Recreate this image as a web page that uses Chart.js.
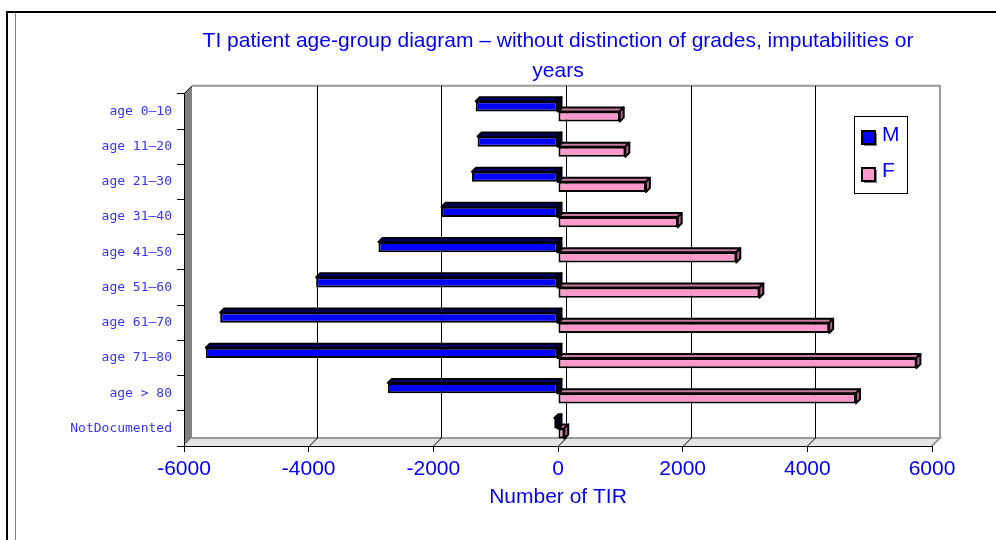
<!DOCTYPE html>
<html>
<head>
<meta charset="utf-8">
<title>TI patient age-group diagram</title>
<script src="https://cdn.jsdelivr.net/npm/chart.js@4.4.1/dist/chart.umd.min.js"></script>
<style>
  html, body { margin: 0; padding: 0; background: #fff; }
  #wrap { position: relative; width: 996px; height: 540px; overflow: hidden; }
  #frame { position: absolute; left: 6px; top: 11px; right: -10px; bottom: -10px; border-left: 2px solid #000; border-top: 2px solid #000; }
  #frame2 { position: absolute; left: 15px; top: 13px; bottom: 0; width: 0; border-left: 1px solid #808080; }
  canvas { position: absolute; left: 0; top: 0; }
</style>
</head>
<body>
<div id="wrap">
  <div id="frame"></div>
  <div id="frame2"></div>
  <canvas id="ageChart" width="996" height="540"></canvas>
</div>
<script>
// --- DATA ---
const ageGroups = ['age 0–10', 'age 11–20', 'age 21–30', 'age 31–40', 'age 41–50',
                   'age 51–60', 'age 61–70', 'age 71–80', 'age > 80', 'NotDocumented'];
const seriesNames = ['M', 'F'];
const maleTIR = [-1320, -1290, -1380, -1870, -2880, -3880, -5420, -5650, -2730, -60];
const femaleTIR = [990, 1080, 1410, 1920, 2860, 3230, 4350, 5750, 4780, 100];
const xTickValues = [-6000, -4000, -2000, 0, 2000, 4000, 6000];
const titleLines = ['TI patient age-group diagram – without distinction of grades, imputabilities or', 'years'];
const xAxisTitle = 'Number of TIR';

// --- STYLE ---
const BLUE_TEXT = '#0000ff';
const DX = 8, DY = 8; // depth of the 3D back wall
const DEPTH = 4;      // depth of the bars

// 3D walls + back grid, drawn before the scales
const wallsPlugin = {
    id: 'walls3d',
    beforeDraw(chart) {
        const { ctx, chartArea: a } = chart;
        const xs = chart.scales.x;
        ctx.save();
        // left wall
        ctx.fillStyle = '#808080';
        ctx.beginPath();
        ctx.moveTo(a.left, a.top);
        ctx.lineTo(a.left + DX, a.top - DY);
        ctx.lineTo(a.left + DX, a.bottom - DY);
        ctx.lineTo(a.left, a.bottom);
        ctx.closePath();
        ctx.fill();
        // floor
        ctx.fillStyle = '#e4e4e4';
        ctx.beginPath();
        ctx.moveTo(a.left, a.bottom);
        ctx.lineTo(a.left + DX, a.bottom - DY);
        ctx.lineTo(a.right + DX, a.bottom - DY);
        ctx.lineTo(a.right, a.bottom);
        ctx.closePath();
        ctx.fill();
        // back wall outline
        ctx.strokeStyle = '#999999';
        ctx.lineWidth = 2;
        ctx.beginPath();
        ctx.moveTo(a.left + DX, a.bottom - DY);
        ctx.lineTo(a.right + DX, a.bottom - DY);
        ctx.lineTo(a.right, a.bottom);
        ctx.moveTo(a.left + DX, a.top - DY);
        ctx.lineTo(a.right + DX, a.top - DY);
        ctx.lineTo(a.right + DX, a.bottom - DY);
        ctx.stroke();
        // grid lines on the back wall
        ctx.strokeStyle = '#000';
        ctx.lineWidth = 1;
        ctx.beginPath();
        ctx.moveTo(a.left, a.top);
        ctx.lineTo(a.left + DX, a.top - DY);
        xTickValues.slice(1, -1).forEach(v => {
            const px = Math.round(xs.getPixelForValue(v)) + 0.5;
            ctx.moveTo(px + DX, a.top - DY);
            ctx.lineTo(px + DX, a.bottom - DY);
            ctx.lineTo(px, a.bottom);
        });
        ctx.stroke();
        ctx.restore();
    },
    // top and end faces of each bar
    beforeDatasetsDraw(chart) {
        const { ctx } = chart;
        const faces = [
            { top: '#000070', side: '#000030' },
            { top: '#c87aa0', side: '#b0608a' }
        ];
        ctx.save();
        ctx.strokeStyle = '#000';
        ctx.lineWidth = 2;
        ctx.lineJoin = 'round';
        chart.data.datasets.forEach((ds, i) => {
            const meta = chart.getDatasetMeta(i);
            meta.data.forEach(bar => {
                const p = bar.getProps(['x', 'y', 'base', 'height'], true);
                const l = Math.min(p.x, p.base), r = Math.max(p.x, p.base);
                const t = p.y - p.height / 2, b = p.y + p.height / 2;
                ctx.fillStyle = faces[i].top;
                ctx.beginPath();
                ctx.moveTo(l, t);
                ctx.lineTo(l + DEPTH, t - DEPTH);
                ctx.lineTo(r + DEPTH, t - DEPTH);
                ctx.lineTo(r, t);
                ctx.closePath();
                ctx.fill();
                ctx.stroke();
                ctx.fillStyle = faces[i].side;
                ctx.beginPath();
                ctx.moveTo(r, t);
                ctx.lineTo(r + DEPTH, t - DEPTH);
                ctx.lineTo(r + DEPTH, b - DEPTH);
                ctx.lineTo(r, b);
                ctx.closePath();
                ctx.fill();
                ctx.stroke();
            });
        });
        ctx.restore();
    },
    // boxed legend inside the plot
    afterDraw(chart) {
        const { ctx } = chart;
        ctx.save();
        ctx.fillStyle = '#fff';
        ctx.fillRect(854.5, 116.5, 53, 77);
        ctx.strokeStyle = '#000';
        ctx.lineWidth = 1;
        ctx.strokeRect(854.5, 116.5, 53, 77);
        const rows = [{ box: 131, text: 135 }, { box: 168, text: 171 }];
        chart.data.datasets.forEach((ds, i) => {
            const r = rows[i];
            ctx.fillStyle = '#808080';
            ctx.fillRect(864, r.box + 2, 13, 13);
            ctx.fillStyle = ds.backgroundColor;
            ctx.fillRect(862, r.box, 13, 13);
            ctx.lineWidth = 2;
            ctx.strokeStyle = '#000';
            ctx.strokeRect(862, r.box, 13, 13);
            ctx.fillStyle = BLUE_TEXT;
            ctx.font = '21px "Liberation Sans", Arial, sans-serif';
            ctx.textBaseline = 'middle';
            ctx.fillText(ds.label, 882, r.text);
        });
        ctx.restore();
    }
};

const ctx = document.getElementById('ageChart').getContext('2d');
const ageChart = new Chart(ctx, {
    type: 'bar',
    data: {
        labels: ageGroups,
        datasets: [{
            label: seriesNames[0],
            data: maleTIR,
            backgroundColor: '#0000ff',
            borderColor: '#000',
            borderWidth: 2,
            borderSkipped: false
        }, {
            label: seriesNames[1],
            data: femaleTIR,
            backgroundColor: '#ff99cc',
            borderColor: '#000',
            borderWidth: 2,
            borderSkipped: false
        }]
    },
    options: {
        indexAxis: 'y',
        responsive: false,
        animation: false,
        devicePixelRatio: 1,
        categoryPercentage: 0.58,
        barPercentage: 1.0,
        layout: { padding: { left: 20, right: 64, top: 0, bottom: 32 } },
        plugins: {
            legend: { display: false },
            tooltip: { enabled: false },
            title: {
                display: true,
                fullSize: false,
                text: titleLines,
                color: BLUE_TEXT,
                font: { family: '"Liberation Sans", Arial, sans-serif', size: 21, weight: 'normal', lineHeight: 1.4 },
                padding: { top: 27, bottom: 8 }
            }
        },
        scales: {
            x: {
                min: -6000,
                max: 6000,
                afterBuildTicks: s => { s.ticks = xTickValues.map(v => ({ value: v })); },
                afterFit: s => { s.height = 62; },
                ticks: {
                    color: BLUE_TEXT,
                    padding: 7,
                    maxRotation: 0,
                    font: { family: '"Liberation Sans", Arial, sans-serif', size: 21, lineHeight: 1.0 },
                    callback: v => String(v)
                },
                grid: { drawOnChartArea: false, drawTicks: true, tickLength: 6, color: '#000' },
                border: { display: true, color: '#000', width: 1 },
                title: {
                    display: true,
                    text: xAxisTitle,
                    color: BLUE_TEXT,
                    font: { family: '"Liberation Sans", Arial, sans-serif', size: 21, lineHeight: 1.0 },
                    padding: { top: 0, bottom: 0 }
                }
            },
            y: {
                afterFit: s => { s.width = 164; },
                ticks: {
                    color: '#3535ff',
                    padding: 5,
                    font: { family: '"DejaVu Sans Mono", monospace', size: 13 }
                },
                grid: { drawOnChartArea: false, drawTicks: true, tickLength: 7, color: '#000', offset: true },
                border: { display: true, color: '#000', width: 1 }
            }
        }
    },
    plugins: [wallsPlugin]
});
</script>
</body>
</html>
